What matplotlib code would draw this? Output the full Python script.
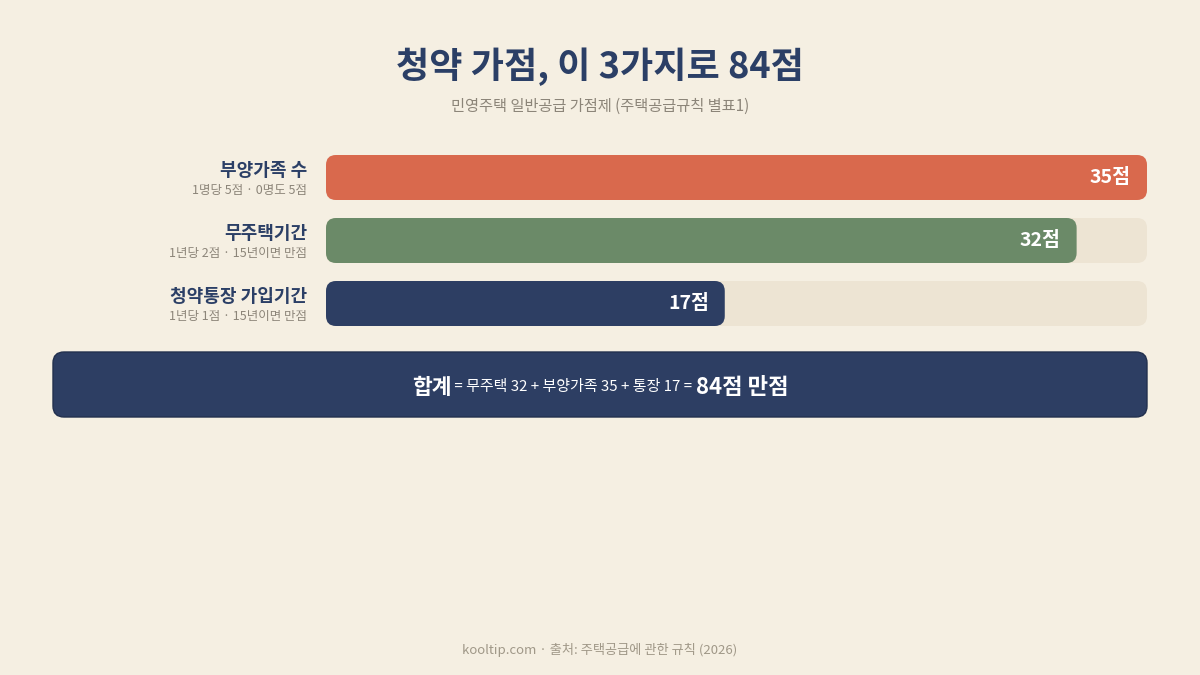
import matplotlib
matplotlib.use("Agg")
import matplotlib.pyplot as plt
from matplotlib.patches import FancyBboxPatch

plt.rcParams['font.family'] = ['Noto Sans CJK KR', 'DejaVu Sans']

# data
categories = ["부양가족 수", "무주택기간", "청약통장 가입기간"]
notes = ["1명당 5점 · 0명도 5점", "1년당 2점 · 15년이면 만점", "1년당 1점 · 15년이면 만점"]
scores = [35, 32, 17]
max_scores = [35, 35, 35]
colors = ["#D9694D", "#6B8A68", "#2D3E63"]

title = "청약 가점, 이 3가지로 84점"
subtitle = "민영주택 일반공급 가점제 (주택공급규칙 별표1)"
footer = "kooltip.com · 출처: 주택공급에 관한 규칙 (2026)"

BG = "#F5EFE2"
TRACK = "#EDE4D3"
NAVY = "#2D3E63"
GRAY = "#8C8579"

W, H = 1200, 675
fig = plt.figure(figsize=(12, 6.75), dpi=100, facecolor=BG)

fig.text(0.5, 1 - 67 / H, title, ha="center", va="center", fontsize=26,
         fontweight="heavy", color="#2B3F66")
fig.text(0.5, 1 - 106 / H, subtitle, ha="center", va="center", fontsize=11,
         fontweight="medium", color=GRAY)

# bar axes: x 326..1147 px, y 155..326 px
row_px = 63
bar_px = 45
bar_h = bar_px / row_px
ax = fig.add_axes([326 / W, 1 - 326 / H, 821 / W, 171 / H])
ax.set_xlim(0, 35)
ax.set_ylim(len(scores) - 1 + bar_h / 2, -bar_h / 2)
ax.axis("off")

px_x = 35 / 821
px_y = 1 / row_px
r = 10 * px_x
aspect = px_y / px_x

for i, (cat, note, s, m, c) in enumerate(zip(categories, notes, scores, max_scores, colors)):
    track = FancyBboxPatch((0, i - bar_h / 2), m, bar_h,
                           boxstyle=f"round,pad=0,rounding_size={r}",
                           mutation_aspect=aspect, fc=TRACK, ec="none")
    ax.add_patch(track)
    bar = FancyBboxPatch((0, i - bar_h / 2), s, bar_h,
                         boxstyle=f"round,pad=0,rounding_size={r}",
                         mutation_aspect=aspect, fc=c, ec="none")
    ax.add_patch(bar)
    ax.text(s - 16 * px_x, i, f"{s}점", ha="right", va="center", fontsize=14,
            fontweight="heavy", color="white")
    yc = 155 + bar_px / 2 + i * row_px
    fig.text(307 / W, 1 - (yc - 7) / H, cat, ha="right", va="center",
             fontsize=13, fontweight="heavy", color="#2B3F66")
    fig.text(307 / W, 1 - (yc + 13) / H, note, ha="right", va="center",
             fontsize=9, fontweight="medium", color=GRAY)

# total box
box_ax = fig.add_axes([0, 0, 1, 1])
box_ax.set_xlim(0, W)
box_ax.set_ylim(H, 0)
box_ax.axis("off")
box_ax.patch.set_alpha(0)
box = FancyBboxPatch((53, 352), 1094, 65, boxstyle="round,pad=0,rounding_size=11",
                     fc=NAVY, ec="#22304E", lw=1)
box_ax.add_patch(box)

pieces = [("합계", 15.5, "heavy"),
          (" = 무주택 32 + 부양가족 35 + 통장 17 = ", 10.8, "medium"),
          ("84점 만점", 16, "heavy")]
renderer = fig.canvas.get_renderer()
texts = []
for s, fs, fw in pieces:
    t = box_ax.text(0, 385, s, ha="left", va="center_baseline", fontsize=fs,
                    fontweight=fw, color="white")
    texts.append(t)
widths = [t.get_window_extent(renderer).width for t in texts]
x = W / 2 - sum(widths) / 2
for t, w in zip(texts, widths):
    t.set_x(x)
    x += w

fig.text(0.5, 1 - 650 / H, footer, ha="center", va="center", fontsize=9.5,
         fontweight="medium", color="#A09888")

fig.savefig("out.png", dpi=100, facecolor=BG)
